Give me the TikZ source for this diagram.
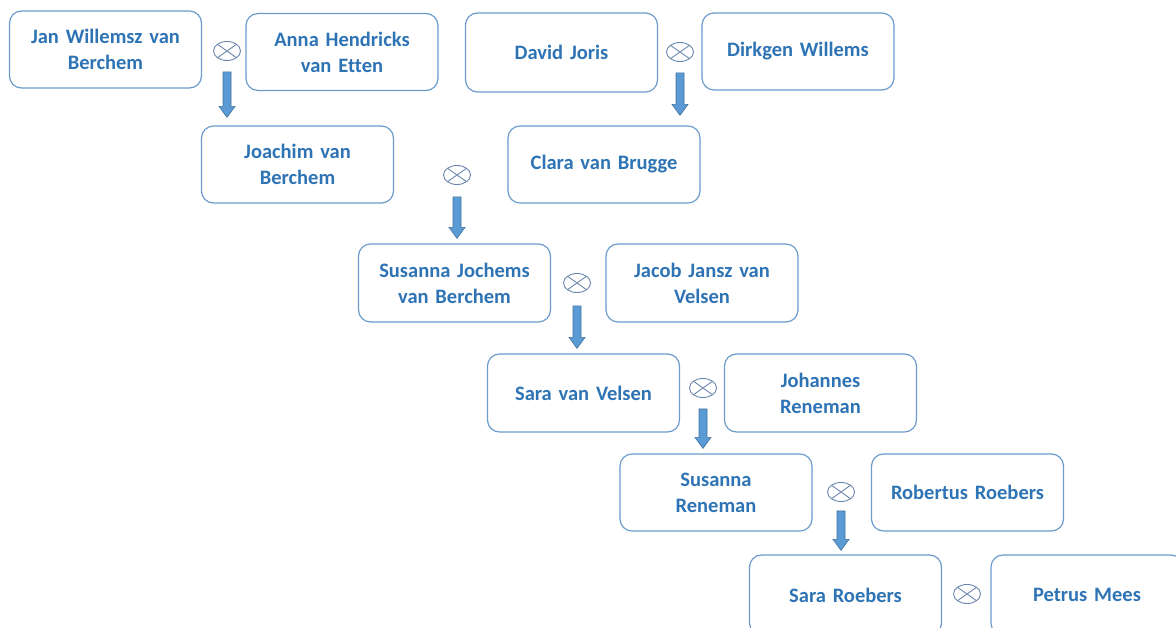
\documentclass[tikz,border=0pt]{standalone}
\usepackage{fontspec}
\setmainfont[Ligatures=CommonOff]{Carlito}
\usetikzlibrary{shapes.geometric,calc}
\definecolor{txt}{HTML}{2E74B5}
\definecolor{bord}{HTML}{6C9BCC}
\definecolor{afill}{HTML}{5B9BD5}
\definecolor{aedge}{HTML}{41719C}
\definecolor{wedcol}{HTML}{6A86AC}
\tikzset{
  person/.style={draw=bord, line width=1.2pt, rounded corners=12pt, fill=white,
    minimum width=192pt, minimum height=77pt, text width=186pt, align=center,
    inner sep=0pt, text=txt, font=\fontsize{20.5}{26}\selectfont\bfseries},
  wed/.style={ellipse, draw=wedcol, line width=0.9pt, minimum width=27pt, minimum height=19pt, inner sep=0pt,
    path picture={\draw[wedcol, line width=0.9pt] (path picture bounding box.north west) -- (path picture bounding box.south east)
      (path picture bounding box.north east) -- (path picture bounding box.south west);}},
  blockarrow/.style={fill=afill, draw=aedge, line width=0.6pt,
    to path={let \p1=(\tikztostart), \p2=(\tikztotarget) in
      (\x1-4pt,\y1) -- (\x1+4pt,\y1) -- (\x1+4pt,\y2+11pt) -- (\x1+8pt,\y2+11pt) -- (\x1,\y2)
      -- (\x1-8pt,\y2+11pt) -- (\x1-4pt,\y2+11pt) -- cycle}}
}
\begin{document}
\begin{tikzpicture}[x=1pt,y=-1pt]
\useasboundingbox (0,0) rectangle (1176,628);
\node[person] (jan) at (105.5,49.5) {Jan Willemsz van\\Berchem};
\node[person] (anna) at (342,52) {Anna Hendricks\\van Etten};
\node[person, minimum height=79pt] (david) at (561.5,52.5) {David Joris};
\node[person] (dirk) at (798,51.5) {Dirkgen Willems};
\node[person] (joa) at (297.5,164.5) {Joachim van\\Berchem};
\node[person] (clara) at (604,164.5) {Clara van Brugge};
\node[person, minimum height=78pt] (susj) at (454.5,283) {Susanna Jochems\\van Berchem};
\node[person, minimum height=78pt] (jacob) at (702,283) {Jacob Jansz van\\Velsen};
\node[person, minimum height=78pt] (sarav) at (583.5,393) {Sara van Velsen};
\node[person, minimum height=78pt] (joh) at (820.5,393) {Johannes\\Reneman};
\node[person] (susr) at (716,492.5) {Susanna\\Reneman};
\node[person] (rob) at (967.5,492.5) {Robertus Roebers};
\node[person, minimum height=80pt] (sarar) at (845.5,595) {Sara Roebers};
\node[person, minimum height=80pt] (petrus) at (1087,595) {Petrus Mees};

\node[wed] (m1) at (227,51) {};
\node[wed] (m2) at (680,52) {};
\node[wed] (m3) at (457,175) {};
\node[wed] (m4) at (577,283) {};
\node[wed] (m5) at (703,388) {};
\node[wed] (m6) at (841,492) {};
\node[wed] (m7) at (967,594) {};

\draw[blockarrow] ([yshift=-11pt]m1.south) to ([yshift=8pt]m1.south |- joa.north);
\draw[blockarrow] ([yshift=-11pt]m2.south) to ([yshift=10pt]m2.south |- clara.north);
\draw[blockarrow] ([yshift=-12pt]m3.south) to ([yshift=5pt]m3.south |- susj.north);
\draw[blockarrow] ([yshift=-13pt]m4.south) to ([yshift=5pt]m4.south |- sarav.north);
\draw[blockarrow] ([yshift=-11pt]m5.south) to ([yshift=5pt]m5.south |- susr.north);
\draw[blockarrow] ([yshift=-9pt]m6.south) to ([yshift=4pt]m6.south |- sarar.north);
\end{tikzpicture}
\end{document}
